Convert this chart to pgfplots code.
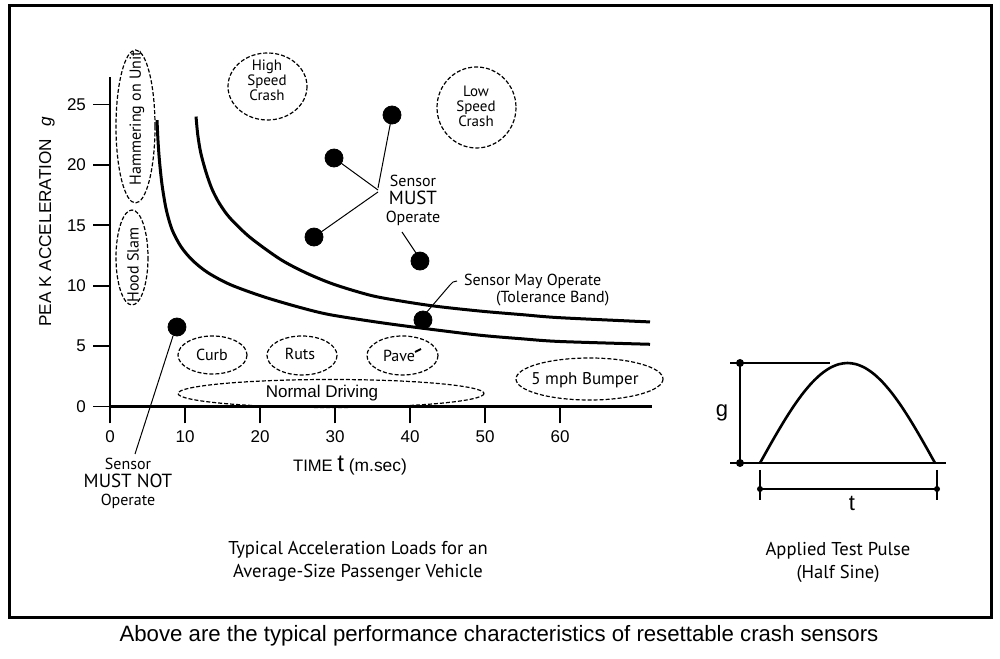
\documentclass[border=0pt]{standalone}
\usepackage{pgfplots}
\pgfplotsset{compat=1.18}
\usepackage{fontspec}
\setmainfont{Liberation Sans}
\newfontfamily\gill{PT Sans}
\newcommand\fs[2][]{\fontsize{#2}{#2}\selectfont}

\begin{document}
\begin{tikzpicture}
\useasboundingbox (0,0) rectangle (500pt,329pt);

% main chart: peak acceleration vs pulse time
\begin{axis}[
  at={(55pt,125.75pt)}, anchor=south west,
  x=3.75pt, y=6.04pt,
  xmin=0, xmax=72.3, ymin=0, ymax=27.3,
  axis x line*=bottom, axis y line*=left,
  axis line style={line width=1.4pt},
  xtick={0,10,...,60}, ytick={0,5,...,25},
  tick align=outside, major tick length=8.5pt,
  tick style={line width=0.9pt, black},
  tick label style={font=\fs{8.5}},
  /pgf/number format/assume math mode=true,
  clip=false,
]
% upper threshold curve
\addplot[line width=1.5pt, smooth] coordinates {
  (11.47,24.0) (11.7,22.5) (12.1,21.0) (12.8,19.4) (13.6,18.0)
  (14.6,16.8) (16.0,15.6) (18.67,14.0) (22.67,12.2) (26,11.1)
  (29.33,10.23) (32.67,9.56) (36,9.03) (42.67,8.36) (49.33,7.9)
  (55,7.6) (60,7.35) (72,7.0)
};
% lower threshold curve
\addplot[line width=1.5pt, smooth] coordinates {
  (6.27,23.7) (6.4,22.0) (6.6,20.3) (6.95,18.3) (7.5,16.3) (8.3,14.6)
  (9.5,13.2) (11,12.1) (13,11.1) (16,10.1) (20.4,9.1) (25.33,8.2)
  (29.33,7.6) (36,6.95) (42.67,6.4) (49.33,5.9) (55,5.6) (60,5.38) (72,5.15)
};
% test events
\addplot[only marks, mark=*, mark size=4.5pt, black] coordinates {
  (8.93,6.58) (27.2,14.03) (29.87,20.57) (37.6,24.13) (41.33,12.04) (41.73,7.16)
};
\end{axis}

% half-sine test pulse
\begin{axis}[
  at={(380pt,97.5pt)}, anchor=south west,
  x=87.5pt, y=50pt,
  xmin=0, xmax=1, ymin=0, ymax=1,
  hide axis, clip=false,
]
\addplot[line width=1.3pt, smooth] coordinates {
  (0,0) (0.05,0.1564) (0.1,0.309) (0.15,0.454) (0.2,0.5878) (0.25,0.7071)
  (0.3,0.809) (0.35,0.891) (0.4,0.9511) (0.45,0.9877) (0.5,1)
  (0.55,0.9877) (0.6,0.9511) (0.65,0.891) (0.7,0.809) (0.75,0.7071)
  (0.8,0.5878) (0.85,0.454) (0.9,0.309) (0.95,0.1564) (1,0)
};
\end{axis}

% annotations in pixel coordinates of the reference
\begin{scope}[x=0.5pt, y=-0.5pt, shift={(0pt,329pt)}]
\draw[line width=1.5pt] (9,6) rectangle (991,617);

\node[rotate=90] at (47,222) {\fs{8.6}PEA K ACCELERATION\hspace{6pt}\textit{g}};
\node at (350,466) {\fs{8.3}TIME \fs{12}t\fs{8.7} (m.sec)};

\begin{scope}[dash pattern=on 2pt off 1pt, line width=0.6pt]
\draw (135.5,126.5) ellipse [x radius=19.5, y radius=76.5];
\draw (132,257.5) ellipse [x radius=16, y radius=47.5];
\draw (267.5,86.5) ellipse [x radius=39.5, y radius=33.5];
\draw (476.5,107.5) ellipse [x radius=39.5, y radius=40.5];
\draw (212.5,355) ellipse [x radius=34.5, y radius=19];
\draw (302,355.5) ellipse [x radius=35, y radius=19.5];
\draw (402.5,355.5) ellipse [x radius=35.5, y radius=19.5];
\draw (331,393.5) ellipse [x radius=153, y radius=14];
\draw (589.5,379) ellipse [x radius=73.5, y radius=21];
\end{scope}

\begin{scope}[font=\gill]
\node[rotate=90] at (137,118) {\fs{8}Hammering on Unit};
\node[rotate=90] at (133,265) {\fs{8}Hood Slam};
\node[align=center, font=\gill\fontsize{7.5}{7.5}\selectfont] at (267,80) {High\\Speed\\Crash};
\node[align=center, font=\gill\fontsize{7.5}{7.5}\selectfont] at (476,106) {Low\\Speed\\Crash};
\node[align=center, font=\gill\fontsize{8}{9}\selectfont] at (413,200)
  {Sensor\\{\fs{9.5}MUST}\\Operate};
\node[align=center, font=\gill\fontsize{8}{9}\selectfont] at (128,483)
  {Sensor\\{\fs{9.5}MUST NOT}\\Operate};
\node[anchor=west, font=\gill\fontsize{8}{9}\selectfont] at (457,281) {Sensor May Operate};
\node[anchor=west, font=\gill\fontsize{8}{9}\selectfont] at (489,299) {(Tolerance Band)};
\node at (212,355) {\fs{8}Curb};
\node at (300,354) {\fs{8}Ruts};
\node at (399,356) {\fs{8}Pave};
\node at (585,380) {\fs{8.5}5 mph Bumper};
\node[align=center, font=\gill\fontsize{9.3}{11.5}\selectfont] at (358,561)
  {Typical Acceleration Loads for an\\Average-Size Passenger Vehicle};
\node[align=center, font=\gill\fontsize{9.3}{11.5}\selectfont] at (838,562)
  {Applied Test Pulse\\(Half Sine)};
\end{scope}
\node at (322,393) {\fs{8.5}Normal Driving};
\draw[line width=1pt] (415,352) -- (421,349);

% leader lines
\begin{scope}[line width=0.5pt]
\draw (392,115) -- (378,188);
\draw (334,158) -- (378,190);
\draw (314,237) -- (378,192);
\draw (402,232) -- (418,256);
\draw (426,313) -- (450,285) to[out=55,in=180] (457,281);
\draw (173,336) -- (135,454);
\end{scope}

% half-sine dimensioning
\draw[line width=0.6pt] (730,363) -- (830,363);
\draw[line width=0.6pt] (730,463) -- (946,463);
\draw[line width=0.6pt] (740,363) -- (740,463);
\fill (740,363) circle [radius=4];
\fill (740,463) circle [radius=4];
\draw[line width=0.6pt] (760,489) -- (937,489);
\draw[line width=0.6pt] (760,470) -- (760,500);
\draw[line width=0.6pt] (937,470) -- (937,500);
\fill (760,489) circle [radius=3];
\fill (937,489) circle [radius=3];
\node at (722,413) {\fs{11}g};
\node at (852,503) {\fs{11}t};

\node at (499,636) {\fs{11.1}Above are the typical performance characteristics of resettable crash sensors};
\end{scope}
\end{tikzpicture}
\end{document}
